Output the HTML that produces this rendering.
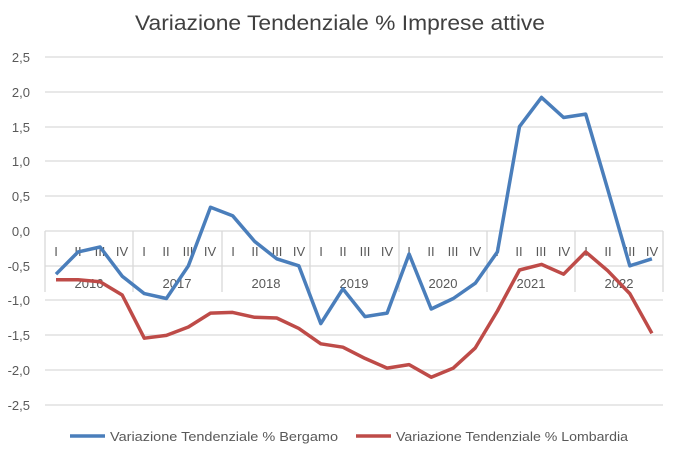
<!DOCTYPE html>
<html><head><meta charset="utf-8"><style>
html,body{margin:0;padding:0;background:#fff;}
svg{display:block;font-family:"Liberation Sans",Calibri,sans-serif;}
</style></head><body>
<svg width="680" height="453" viewBox="0 0 680 453" xmlns="http://www.w3.org/2000/svg">
<rect width="680" height="453" fill="#fff"/>
<text x="135" y="30" font-size="21" fill="#404040" textLength="410" lengthAdjust="spacingAndGlyphs">Variazione Tendenziale % Imprese attive</text>
<g stroke="#d9d9d9" stroke-width="1.3">
<line x1="45" x2="663" y1="57" y2="57"/><line x1="45" x2="663" y1="92" y2="92"/>
<line x1="45" x2="663" y1="127" y2="127"/><line x1="45" x2="663" y1="161" y2="161"/>
<line x1="45" x2="663" y1="196" y2="196"/><line x1="45" x2="663" y1="231" y2="231"/>
<line x1="45" x2="663" y1="266" y2="266"/><line x1="45" x2="663" y1="300" y2="300"/>
<line x1="45" x2="663" y1="335" y2="335"/><line x1="45" x2="663" y1="370" y2="370"/>
<line x1="45" x2="663" y1="405" y2="405"/>
<line x1="45" x2="45" y1="231" y2="292"/><line x1="133" x2="133" y1="231" y2="292"/>
<line x1="222" x2="222" y1="231" y2="292"/><line x1="310" x2="310" y1="231" y2="292"/>
<line x1="399" x2="399" y1="231" y2="292"/><line x1="487" x2="487" y1="231" y2="292"/>
<line x1="575" x2="575" y1="231" y2="292"/><line x1="663" x2="663" y1="231" y2="292"/>
</g>
<g font-size="13" fill="#595959" text-anchor="end">
<text x="30" y="62">2,5</text><text x="30" y="97">2,0</text><text x="30" y="132">1,5</text>
<text x="30" y="166">1,0</text><text x="30" y="201">0,5</text><text x="30" y="236">0,0</text>
<text x="30" y="271">-0,5</text><text x="30" y="305">-1,0</text><text x="30" y="340">-1,5</text>
<text x="30" y="375">-2,0</text><text x="30" y="410">-2,5</text>
</g>
<g font-size="13" fill="#595959" text-anchor="middle">
<text x="56" y="256">I</text><text x="78" y="256">II</text><text x="100" y="256">III</text><text x="122" y="256">IV</text>
<text x="144" y="256">I</text><text x="166" y="256">II</text><text x="188" y="256">III</text><text x="210" y="256">IV</text>
<text x="233" y="256">I</text><text x="255" y="256">II</text><text x="277" y="256">III</text><text x="299" y="256">IV</text>
<text x="321" y="256">I</text><text x="343" y="256">II</text><text x="365" y="256">III</text><text x="387" y="256">IV</text>
<text x="409" y="256">I</text><text x="431" y="256">II</text><text x="453" y="256">III</text><text x="475" y="256">IV</text>
<text x="497" y="256">I</text><text x="519" y="256">II</text><text x="541" y="256">III</text><text x="564" y="256">IV</text>
<text x="586" y="256">I</text><text x="608" y="256">II</text><text x="630" y="256">III</text><text x="652" y="256">IV</text>
<text x="89" y="288">2016</text><text x="177" y="288">2017</text><text x="266" y="288">2018</text>
<text x="354" y="288">2019</text><text x="443" y="288">2020</text><text x="531" y="288">2021</text>
<text x="619" y="288">2022</text>
</g>
<polyline fill="none" stroke="#4a7ebb" stroke-width="3.5" stroke-linejoin="round" points="56,274.2 78.1,251.9 100.1,247 122.2,276.2 144.3,293.6 166.4,298.5 188.4,265.8 210.5,207.3 232.6,215.7 254.6,241.4 276.7,258.8 298.8,265.8 320.8,323.6 342.9,288.8 365,316.6 387.1,313.1 409.1,254 431.2,309 453.3,298.5 475.3,283.2 497.4,251.9 519.5,126.6 541.5,97.4 563.6,117.5 585.7,114.1 607.7,189.2 629.8,265.8 651.9,258.8"/>
<polyline fill="none" stroke="#be4b48" stroke-width="3.5" stroke-linejoin="round" points="56,279.7 78.1,279.7 100.1,281.8 122.2,295 144.3,338.2 166.4,335.4 188.4,327 210.5,313.1 232.6,312.4 254.6,317.3 276.7,318 298.8,328.4 320.8,343.8 342.9,347.2 365,358.4 387.1,368.1 409.1,364.6 431.2,377.2 453.3,368.1 475.3,347.9 497.4,311 519.5,270 541.5,264.4 563.6,274.2 585.7,251.9 607.7,270.7 629.8,293.6 651.9,333.3"/>
<line x1="70" x2="105" y1="436" y2="436" stroke="#4a7ebb" stroke-width="3.5"/>
<text x="110" y="441" font-size="13" fill="#595959" textLength="228" lengthAdjust="spacingAndGlyphs">Variazione Tendenziale % Bergamo</text>
<line x1="356" x2="391" y1="436" y2="436" stroke="#be4b48" stroke-width="3.5"/>
<text x="396" y="441" font-size="13" fill="#595959" textLength="232" lengthAdjust="spacingAndGlyphs">Variazione Tendenziale % Lombardia</text>
</svg>
</body></html>
